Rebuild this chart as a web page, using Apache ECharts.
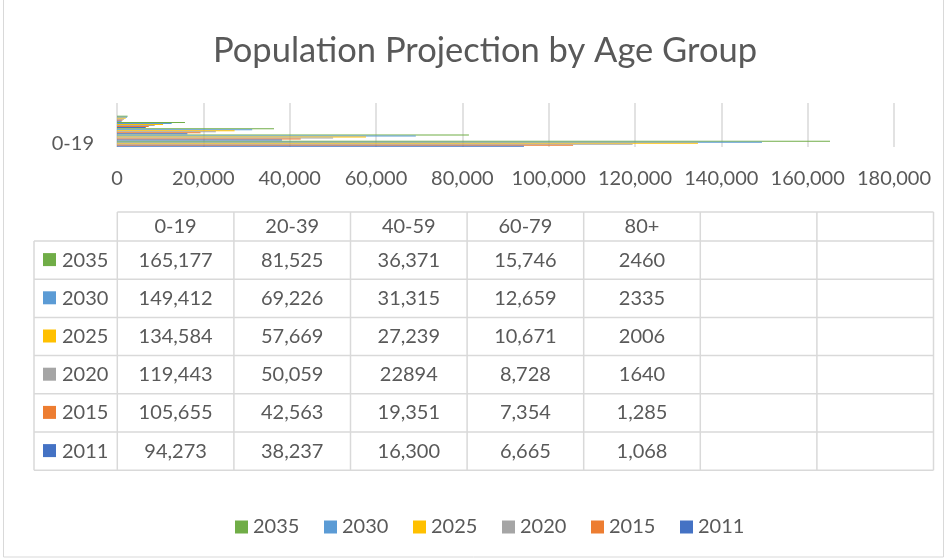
<!DOCTYPE html>
<html>
<head>
<meta charset="utf-8">
<title>Population Projection by Age Group</title>
<script src="https://cdn.jsdelivr.net/npm/echarts@6.0.0/dist/echarts.min.js"></script>
<style>
  html, body { margin: 0; padding: 0; background: #fff; }
  #main { width: 951px; height: 558px; }
</style>
</head>
<body>
<div id="main"></div>
<script>
// categories (the sheet has two empty columns after 80+)
const ageGroups = ['0-19', '20-39', '40-59', '60-79', '80+', '', '']
// data table rows, top to bottom, as printed in the table
const years = ['2035', '2030', '2025', '2020', '2015', '2011']
const v2035 = ['165,177', '81,525', '36,371', '15,746', '2460']
const v2030 = ['149,412', '69,226', '31,315', '12,659', '2335']
const v2025 = ['134,584', '57,669', '27,239', '10,671', '2006']
const v2020 = ['119,443', '50,059', '22894', '8,728', '1640']
const v2015 = ['105,655', '42,563', '19,351', '7,354', '1,285']
const v2011 = ['94,273', '38,237', '16,300', '6,665', '1,068']
const tableRows = [v2035, v2030, v2025, v2020, v2015, v2011]
// value axis ticks
const xMin = 0
const xMax = 180000
const xStep = 20000

const yearColors = ['#70AD47', '#5B9BD5', '#FFC000', '#A5A5A5', '#ED7D31', '#4472C4']
const textColor = '#595959'
const lineColor = '#d9d9d9'
const font = 'Lato'

const toNum = s => Number(s.replace(/,/g, ''))

// bars: 2035 on top of each group, 2011 at the bottom
const series = years.map((y, i) => ({
  name: y,
  type: 'bar',
  barGap: '0%',
  barCategoryGap: '10%',
  itemStyle: { color: yearColors[i] },
  data: tableRows[i].map(toNum)
}))

// data table under the chart
const colX0 = 117.3
const colW = 116.6
const hdrTop = 212
const bodyTop = 241
const rowH = 38.2
const rowHdrX = 34
const tableRight = colX0 + colW * ageGroups.length
const tableBottom = bodyTop + rowH * years.length

const graphic = []
const hline = (x1, x2, y) => graphic.push({ type: 'line', silent: true, shape: { x1, y1: y, x2, y2: y }, style: { stroke: lineColor, lineWidth: 1.5 } })
const vline = (x, y1, y2) => graphic.push({ type: 'line', silent: true, shape: { x1: x, y1, x2: x, y2 }, style: { stroke: lineColor, lineWidth: 1.5 } })
const text = (x, y, str, align) => graphic.push({
  type: 'text', silent: true, x, y,
  style: { text: str, fill: textColor, fontSize: 20, fontFamily: font, align, verticalAlign: 'middle', textAlign: align, textVerticalAlign: 'middle' }
})

hline(colX0, tableRight, hdrTop)
for (let r = 0; r <= years.length; r++) hline(rowHdrX, tableRight, bodyTop + r * rowH)
vline(rowHdrX, bodyTop, tableBottom)
for (let c = 0; c <= ageGroups.length; c++) vline(colX0 + c * colW, hdrTop, tableBottom)

ageGroups.forEach((g, c) => text(colX0 + c * colW + colW / 2, (hdrTop + bodyTop) / 2, g, 'center'))
years.forEach((y, r) => {
  const cy = bodyTop + r * rowH + rowH / 2
  graphic.push({ type: 'rect', silent: true, shape: { x: 43, y: cy - 7, width: 13, height: 13 }, style: { fill: yearColors[r] } })
  text(62, cy, y, 'left')
  tableRows[r].forEach((v, c) => text(colX0 + c * colW + colW / 2, cy, v, 'center'))
})

// chart border
graphic.push({ type: 'rect', silent: true, shape: { x: 3.5, y: -2, width: 940, height: 559 }, style: { fill: 'none', stroke: lineColor, lineWidth: 1 } })

const chart = echarts.init(document.getElementById('main'))
chart.setOption({
  animation: false,
  backgroundColor: '#fff',
  title: {
    text: 'Population Projection by Age Group',
    left: 208,
    top: 28,
    textStyle: { color: textColor, fontSize: 34.5, fontWeight: 'normal', fontFamily: font }
  },
  legend: {
    data: years,
    left: 230,
    top: 512,
    icon: 'rect',
    itemWidth: 13,
    itemHeight: 13,
    itemGap: 24.6,
    textStyle: { color: textColor, fontSize: 20, fontFamily: font }
  },
  grid: { left: 117, right: 57, top: 103, bottom: 411, outerBoundsMode: 'none' },
  xAxis: {
    type: 'value',
    min: xMin,
    max: xMax,
    interval: xStep,
    axisLine: { show: false },
    axisTick: { show: false },
    splitLine: { lineStyle: { color: lineColor, width: 1.5 } },
    axisLabel: {
      margin: 22,
      color: textColor,
      fontSize: 20,
      fontFamily: font,
      formatter: v => v.toLocaleString('en-US')
    }
  },
  yAxis: {
    type: 'category',
    data: ageGroups,
    axisLine: { show: false },
    axisTick: { show: false },
    axisLabel: { interval: 6, margin: 23, color: textColor, fontSize: 20, fontFamily: font }
  },
  series: series,
  graphic: graphic
})
</script>
</body>
</html>
